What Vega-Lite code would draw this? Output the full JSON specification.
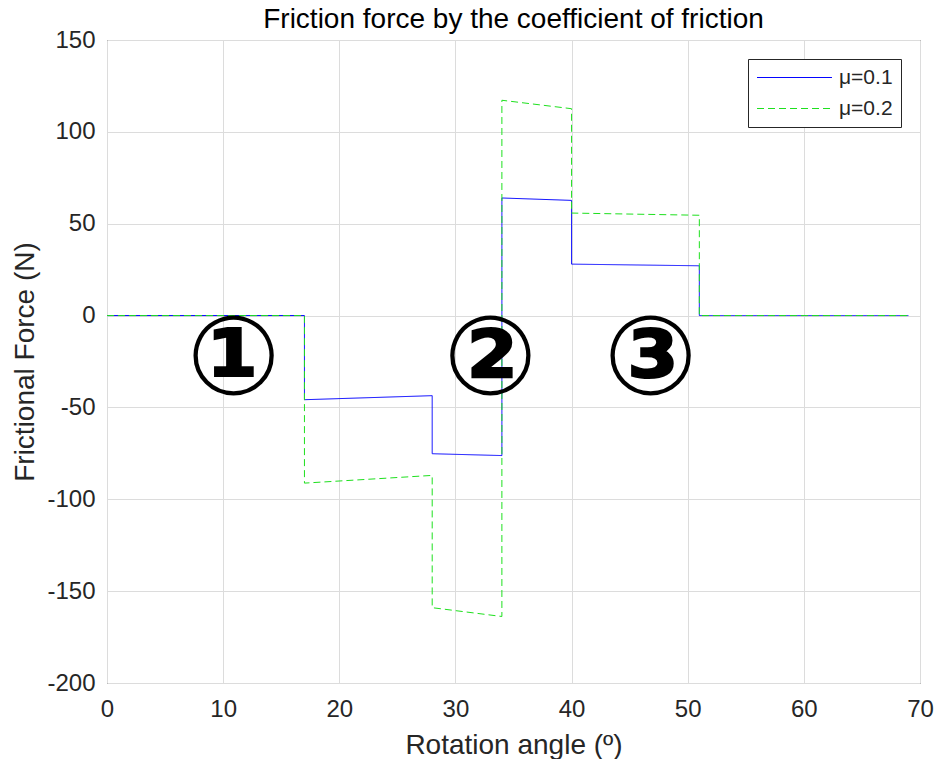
{
  "$schema": "https://vega.github.io/schema/vega-lite/v6.json",
  "autosize": "none",
  "width": 813,
  "height": 643,
  "padding": {"left": 107, "top": 40, "right": 18, "bottom": 76},
  "background": "white",
  "title": {"text": "Friction force by the coefficient of friction", "fontSize": 28, "font": "Liberation Sans", "fontWeight": "normal", "color": "#000000", "offset": -6},
  "config": {
    "view": {"stroke": "#262626", "strokeWidth": 1},
    "axis": {
      "labelFont": "Liberation Sans", "labelFontSize": 24, "labelColor": "#262626",
      "titleFont": "Liberation Sans", "titleFontSize": 28, "titleFontWeight": "normal", "titleColor": "#262626",
      "gridColor": "#dcdcdc", "gridWidth": 1, "domain": false,
      "ticks": false, "labelPadding": 12, "labelFlush": false,
      "labelExpr": "replace(datum.label, '−', '-')"
    },
    "legend": {
      "orient": "top-right", "offset": 19, "fillColor": "white", "strokeColor": "#262626",
      "padding": 8, "labelFont": "Liberation Sans", "labelFontSize": 21, "labelColor": "#262626",
      "labelOffset": 34, "symbolOffset": 28, "rowPadding": 9, "symbolType": "M-4,0H4", "symbolSize": 351, "symbolStrokeWidth": 1
    }
  },
  "datasets": {
    "lines": [
      {"series": "μ=0.1", "i": 1, "angle": 0, "force": 0},
      {"series": "μ=0.1", "i": 2, "angle": 17, "force": 0},
      {"series": "μ=0.1", "i": 3, "angle": 17, "force": -45.8},
      {"series": "μ=0.1", "i": 4, "angle": 28, "force": -43.6},
      {"series": "μ=0.1", "i": 5, "angle": 28, "force": -75.2},
      {"series": "μ=0.1", "i": 6, "angle": 34, "force": -76.2},
      {"series": "μ=0.1", "i": 7, "angle": 34, "force": 64.0},
      {"series": "μ=0.1", "i": 8, "angle": 40, "force": 62.7},
      {"series": "μ=0.1", "i": 9, "angle": 40, "force": 28.0},
      {"series": "μ=0.1", "i": 10, "angle": 51, "force": 27.1},
      {"series": "μ=0.1", "i": 11, "angle": 51, "force": 0},
      {"series": "μ=0.1", "i": 12, "angle": 69, "force": 0},
      {"series": "μ=0.2", "i": 1, "angle": 0, "force": 0},
      {"series": "μ=0.2", "i": 2, "angle": 17, "force": 0},
      {"series": "μ=0.2", "i": 3, "angle": 17, "force": -91.2},
      {"series": "μ=0.2", "i": 4, "angle": 28, "force": -87.0},
      {"series": "μ=0.2", "i": 5, "angle": 28, "force": -159.0},
      {"series": "μ=0.2", "i": 6, "angle": 34, "force": -163.8},
      {"series": "μ=0.2", "i": 7, "angle": 34, "force": 117.2},
      {"series": "μ=0.2", "i": 8, "angle": 40, "force": 112.6},
      {"series": "μ=0.2", "i": 9, "angle": 40, "force": 55.8},
      {"series": "μ=0.2", "i": 10, "angle": 51, "force": 54.6},
      {"series": "μ=0.2", "i": 11, "angle": 51, "force": 0},
      {"series": "μ=0.2", "i": 12, "angle": 69, "force": 0}
    ],
    "marks": [
      {"label": "①", "angle": 10.9, "force": -24.5},
      {"label": "②", "angle": 33.0, "force": -24.5},
      {"label": "③", "angle": 46.8, "force": -24.5}
    ]
  },
  "layer": [
    {
      "data": {"name": "lines"},
      "mark": {"type": "line", "strokeWidth": 1},
      "encoding": {
        "x": {"field": "angle", "type": "quantitative", "title": "Rotation angle (º)",
              "scale": {"domain": [0, 70], "nice": false},
              "axis": {"values": [0, 10, 20, 30, 40, 50, 60, 70], "labelPadding": 14, "titlePadding": 10}},
        "y": {"field": "force", "type": "quantitative", "title": "Frictional Force (N)",
              "scale": {"domain": [-200, 150], "nice": false},
              "axis": {"values": [-200, -150, -100, -50, 0, 50, 100, 150], "titlePadding": 7}},
        "order": {"field": "i", "type": "quantitative"},
        "color": {"field": "series", "type": "nominal", "title": null,
                  "scale": {"domain": ["μ=0.1", "μ=0.2"], "range": ["#0000ff", "#1ee01e"]}},
        "strokeDash": {"field": "series", "type": "nominal", "title": null,
                  "scale": {"domain": ["μ=0.1", "μ=0.2"], "range": [[1, 0], [7, 4]]}}
      }
    },
    {
      "data": {"name": "marks"},
      "mark": {"type": "text", "font": "DejaVu Sans", "fontWeight": "bold", "fontSize": 110, "align": "center", "baseline": "middle", "color": "#000000"},
      "encoding": {
        "x": {"field": "angle", "type": "quantitative"},
        "y": {"field": "force", "type": "quantitative"},
        "text": {"field": "label", "type": "nominal"}
      }
    }
  ]
}
